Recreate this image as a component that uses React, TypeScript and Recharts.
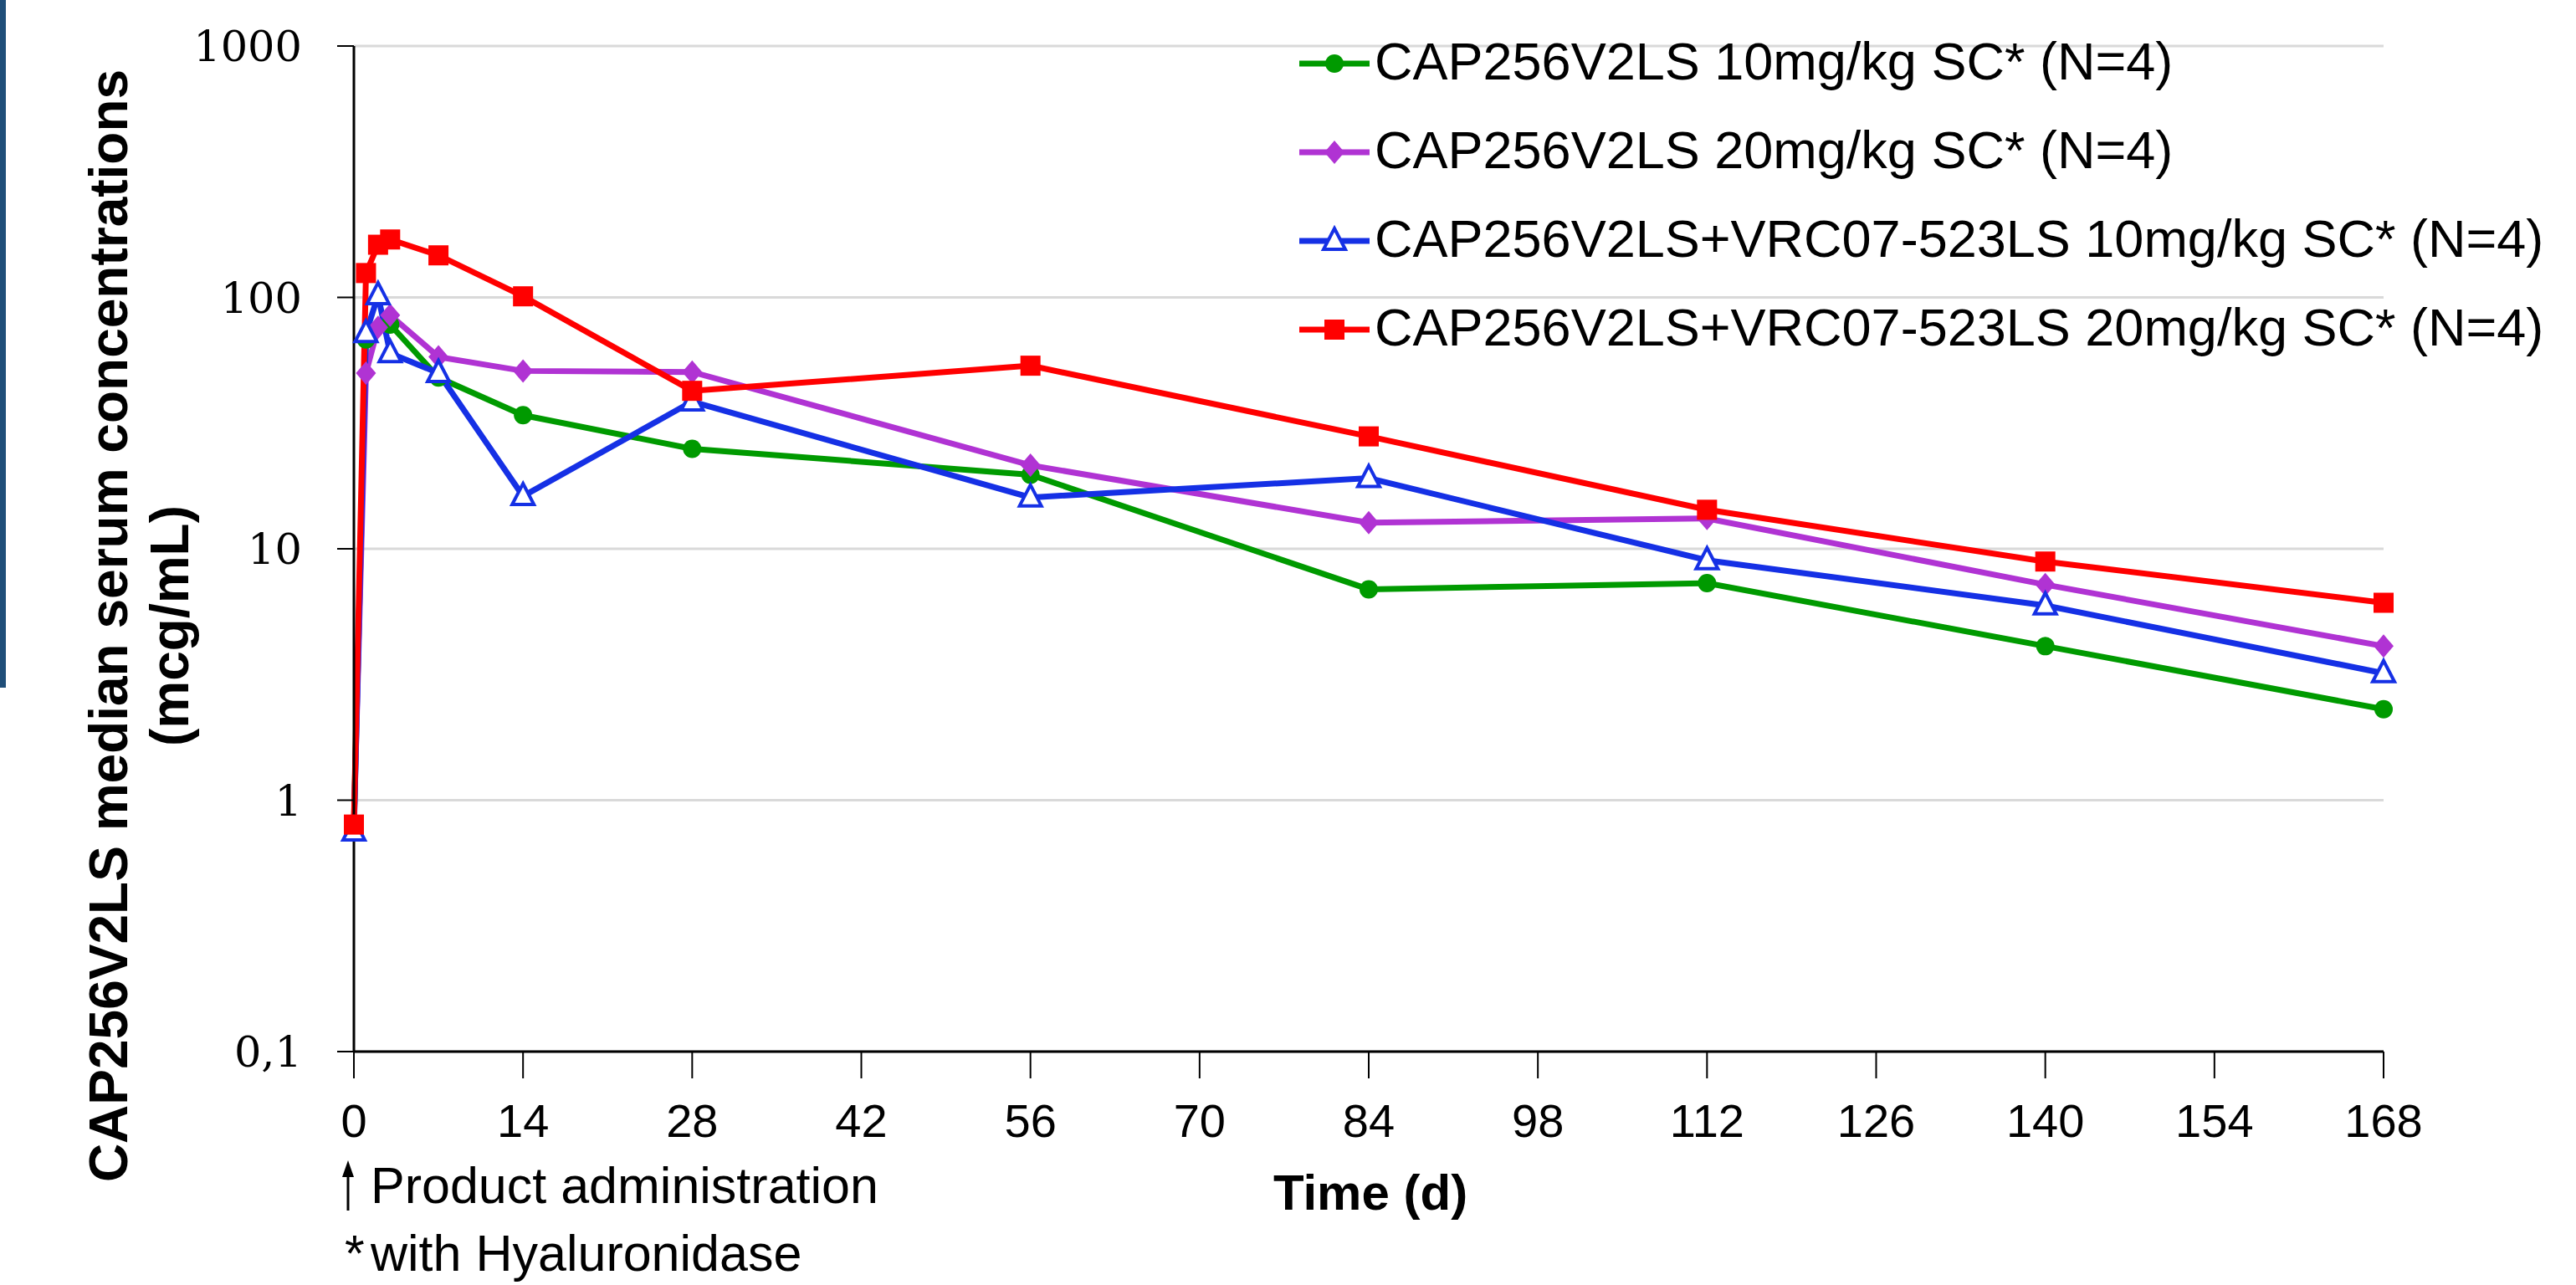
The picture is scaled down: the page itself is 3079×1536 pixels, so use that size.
import React from 'react';
import { LineChart, Line, XAxis, YAxis, CartesianGrid } from 'recharts';

const W = 3079;
const H = 1536;

// ---- data ----
const xTicks = [0, 14, 28, 42, 56, 70, 84, 98, 112, 126, 140, 154, 168];
const yTicks = [0.1, 1, 10, 100, 1000];
const yTickLabels = ['0,1', '1', '10', '100', '1000'];

const seriesNames = [
  'CAP256V2LS 10mg/kg SC* (N=4)',
  'CAP256V2LS 20mg/kg SC* (N=4)',
  'CAP256V2LS+VRC07-523LS 10mg/kg SC* (N=4)',
  'CAP256V2LS+VRC07-523LS 20mg/kg SC* (N=4)',
];
const seriesColors = ['#009a00', '#b033d3', '#1530e5', '#ff0000'];
const seriesShapes = ['circle', 'diamond', 'triangle', 'square'];

const daysGreen = [0, 1, 3, 7, 14, 28, 56, 84, 112, 140, 168];
const valuesGreen = [0.8, 68, 78, 48, 34, 25, 19.7, 6.9, 7.3, 4.1, 2.3];

const daysPurple = [0, 1, 2, 3, 7, 14, 28, 56, 84, 112, 140, 168];
const valuesPurple = [0.79, 50, 76, 85, 58, 51, 50.5, 21.5, 12.7, 13.2, 7.2, 4.1];

const daysBlue = [0, 1, 2, 3, 7, 14, 28, 56, 84, 112, 140, 168];
const valuesBlue = [0.75, 72, 102, 60, 50, 16.2, 38.5, 16, 19.1, 9.0, 5.95, 3.2];

const daysRed = [0, 1, 2, 3, 7, 14, 28, 56, 84, 112, 140, 168];
const valuesRed = [0.8, 125, 162, 170, 147, 101, 42.5, 53.5, 28, 14.3, 8.9, 6.1];

const toData = (days: number[], vals: number[]) => days.map((d, i) => ({ day: d, v: vals[i] }));
const seriesData = [
  toData(daysGreen, valuesGreen),
  toData(daysPurple, valuesPurple),
  toData(daysBlue, valuesBlue),
  toData(daysRed, valuesRed),
];

const SANS = '"Liberation Sans", Arial, sans-serif';

function Marker({ shape, color, cx, cy }: { shape: string; color: string; cx: number; cy: number }) {
  if (cx == null || cy == null || isNaN(cx) || isNaN(cy)) return null;
  if (shape === 'circle') return <circle cx={cx} cy={cy} r={11} fill={color} />;
  if (shape === 'diamond')
    return <polygon points={`${cx},${cy - 14} ${cx + 12},${cy} ${cx},${cy + 14} ${cx - 12},${cy}`} fill={color} />;
  if (shape === 'triangle')
    return (
      <polygon
        points={`${cx},${cy - 15} ${cx + 13},${cy + 10} ${cx - 13},${cy + 10}`}
        fill="#ffffff"
        stroke={color}
        strokeWidth={4}
      />
    );
  return <rect x={cx - 12} y={cy - 12} width={24} height={24} fill={color} />;
}

const makeDot = (i: number) => (props: any) => (
  <Marker key={`d${i}-${props.index}`} shape={seriesShapes[i]} color={seriesColors[i]} cx={props.cx} cy={props.cy} />
);

const XTick = (props: any) => (
  <text x={props.x} y={1359} textAnchor="middle" fontFamily={SANS} fontSize={56} fill="#000">
    {props.payload.value}
  </text>
);

const YTick = (props: any) => {
  const idx = yTicks.indexOf(props.payload.value);
  return (
    <text x={361} y={props.y} dy={18} textAnchor="end" fontFamily='"DejaVu Serif", serif' fontSize={51} fill="#000">
      {idx >= 0 ? yTickLabels[idx] : props.payload.value}
    </text>
  );
};

const YTitle = () => (
  <g>
    <text
      x={152}
      y={748}
      transform="rotate(-90 152 748)"
      textAnchor="middle"
      fontFamily={SANS}
      fontWeight="bold"
      fontSize={64}
      fill="#000"
    >
      CAP256V2LS median serum concentrations
    </text>
    <text
      x={225}
      y={748}
      transform="rotate(-90 225 748)"
      textAnchor="middle"
      fontFamily={SANS}
      fontWeight="bold"
      fontSize={64}
      fill="#000"
    >
      (mcg/mL)
    </text>
  </g>
);

const XTitle = () => (
  <text x={1638} y={1446} textAnchor="middle" fontFamily={SANS} fontWeight="bold" fontSize={60} fill="#000">
    Time (d)
  </text>
);

export default function App() {
  return (
    <div style={{ position: 'absolute', left: 0, top: 0, width: W, height: H, background: '#fff', overflow: 'hidden' }}>
      <LineChart width={W} height={H} margin={{ top: 55, right: 230, bottom: 179, left: 0 }}>
        <CartesianGrid vertical={false} stroke="#d9d9d9" strokeWidth={3} />
        <XAxis
          dataKey="day"
          type="number"
          domain={[0, 168]}
          ticks={xTicks}
          interval={0}
          height={100}
          tickSize={32}
          axisLine={{ stroke: '#000', strokeWidth: 3 }}
          tickLine={{ stroke: '#000', strokeWidth: 2 }}
          tick={<XTick />}
          label={<XTitle />}
          allowDuplicatedCategory={false}
        />
        <YAxis
          type="number"
          scale="log"
          domain={[0.1, 1000]}
          ticks={yTicks}
          interval={0}
          allowDataOverflow
          width={423}
          tickSize={20}
          axisLine={{ stroke: '#000', strokeWidth: 3 }}
          tickLine={{ stroke: '#000', strokeWidth: 2 }}
          tick={<YTick />}
          label={<YTitle />}
        />
        {seriesData.map((d, i) => (
          <Line
            key={seriesNames[i]}
            data={d}
            dataKey="v"
            name={seriesNames[i]}
            type="linear"
            stroke={seriesColors[i]}
            strokeWidth={7}
            dot={makeDot(i)}
            activeDot={false}
            isAnimationActive={false}
          />
        ))}
      </LineChart>
      <svg
        width={W}
        height={H}
        style={{ position: 'absolute', left: 0, top: 0, pointerEvents: 'none' }}
      >
        <rect x={0} y={0} width={7} height={822} fill="#1f4e79" />
        {seriesNames.map((name, i) => {
          const y = 76 + i * 106;
          return (
            <g key={name}>
              <line x1={1553} x2={1637} y1={y} y2={y} stroke={seriesColors[i]} strokeWidth={7} />
              <Marker shape={seriesShapes[i]} color={seriesColors[i]} cx={1595} cy={y} />
              <text x={1643} y={y + 19} fontFamily={SANS} fontSize={63} fill="#000">
                {name}
              </text>
            </g>
          );
        })}
        <line x1={416} x2={416} y1={1447} y2={1400} stroke="#000" strokeWidth={3} />
        <polygon points="409,1407 423,1407 416,1387" fill="#000" />
        <text x={443} y={1438} fontFamily={SANS} fontSize={61} fill="#000">
          Product administration
        </text>
        <text x={412} y={1519} fontFamily={SANS} fontSize={61} fill="#000">
          *
        </text>
        <text x={443} y={1519} fontFamily={SANS} fontSize={61} fill="#000">
          with Hyaluronidase
        </text>
      </svg>
    </div>
  );
}
